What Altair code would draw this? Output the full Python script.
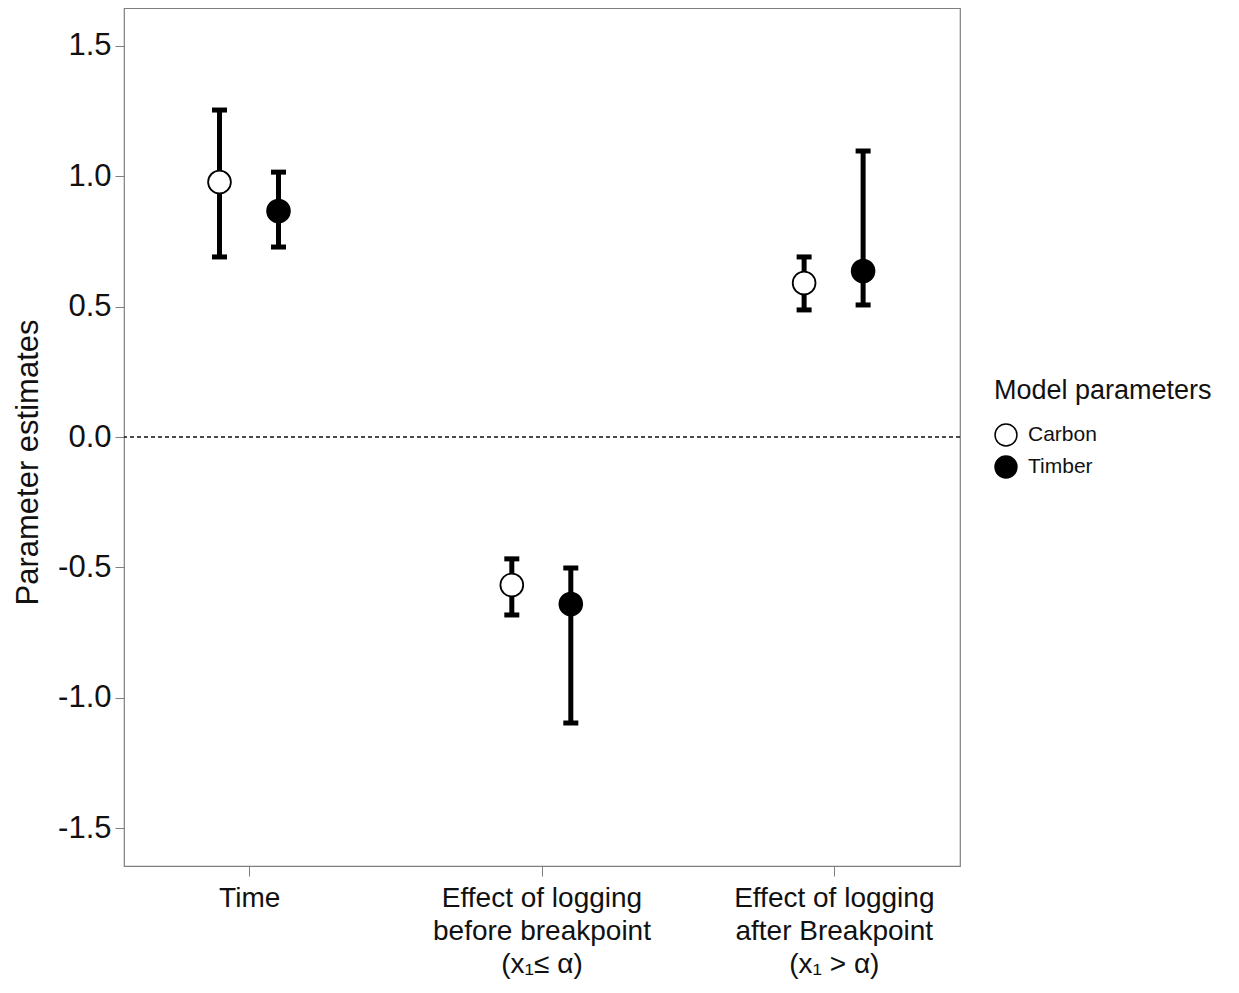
import altair as alt
import pandas as pd

params = ["Time", "Before", "After"]
param_labels = [
    ["Time"],
    ["Effect of logging", "before breakpoint", "(x\u2081\u2264 \u03b1)"],
    ["Effect of logging", "after Breakpoint", "(x\u2081 > \u03b1)"],
]
models = ["Carbon", "Timber"]

carbon_est = [0.977, -0.567, 0.590]
carbon_lo = [0.690, -0.682, 0.487]
carbon_hi = [1.253, -0.467, 0.690]
timber_est = [0.866, -0.640, 0.636]
timber_lo = [0.728, -1.096, 0.506]
timber_hi = [1.015, -0.502, 1.096]

rows = []
for i, p in enumerate(params):
    rows.append(dict(param=p, model="Carbon", est=carbon_est[i], lo=carbon_lo[i], hi=carbon_hi[i]))
    rows.append(dict(param=p, model="Timber", est=timber_est[i], lo=timber_lo[i], hi=timber_hi[i]))
df = pd.DataFrame(rows)

# label expression built from the label arrays
def js_arr(a):
    return "[" + ",".join("'" + s + "'" for s in a) + "]"

label_expr = " : ".join(
    f"datum.value == '{p}' ? {js_arr(l)}" for p, l in zip(params, param_labels)
) + " : ''"

FONT = "Liberation Sans"

x_enc = alt.X(
    "param:N",
    sort=params,
    scale=alt.Scale(paddingInner=0.14, paddingOuter=0),
    axis=alt.Axis(
        title=None,
        labelExpr=label_expr,
        labelAngle=0,
        labelFontSize=28,
        labelFont=FONT,
        labelColor="#111111",
        labelLineHeight=33,
        labelPadding=8,
        labelLimit=0,
        tickColor="#7f7f7f",
        tickSize=10,
        domain=False,
        labelBaseline="top",
    ),
)
xoff = alt.XOffset(
    "model:N",
    sort=models,
    scale=alt.Scale(range=[66, 184], paddingInner=0, paddingOuter=0),
)
y_scale = alt.Scale(domain=[-1.644, 1.644], nice=False, zero=False)
y_axis = alt.Axis(
    title="Parameter estimates",
    values=[-1.5, -1.0, -0.5, 0.0, 0.5, 1.0, 1.5],
    format=".1f",
    labelExpr="replace(datum.label, '\u2212', '-')",
    labelFontSize=31,
    labelFont=FONT,
    labelColor="#111111",
    titleFontSize=31,
    titleFont=FONT,
    titleFontWeight="normal",
    titleColor="#111111",
    titlePadding=13,
    titleY=454,
    tickColor="#7f7f7f",
    tickSize=9,
    labelPadding=4,
    domain=False,
    grid=False,
)

base = alt.Chart(df)

zero = alt.Chart(pd.DataFrame({"z": [0.0]})).mark_rule(
    strokeDash=[4, 3], color="#111111", strokeWidth=1.4
).encode(y=alt.Y("z:Q", scale=y_scale, axis=y_axis))

bars = base.mark_rule(color="black", strokeWidth=5).encode(
    x=x_enc, xOffset=xoff,
    y=alt.Y("lo:Q", scale=y_scale, axis=y_axis), y2="hi:Q",
)
caps_lo = base.mark_tick(color="black", opacity=1, size=15, thickness=5, orient="horizontal").encode(
    x=x_enc, xOffset=xoff, y=alt.Y("lo:Q", scale=y_scale, axis=y_axis),
)
caps_hi = base.mark_tick(color="black", opacity=1, size=15, thickness=5, orient="horizontal").encode(
    x=x_enc, xOffset=xoff, y=alt.Y("hi:Q", scale=y_scale, axis=y_axis),
)
points = base.mark_point(filled=True, opacity=1, stroke="black", strokeWidth=1.8, size=520, shape="circle").encode(
    x=x_enc, xOffset=xoff,
    y=alt.Y("est:Q", scale=y_scale, axis=y_axis),
    fill=alt.Fill(
        "model:N",
        sort=models,
        scale=alt.Scale(domain=models, range=["white", "black"]),
        legend=alt.Legend(
            title="Model parameters",
            orient="none",
            legendX=870,
            legendY=370,
            titleFontSize=27,
            titleFont=FONT,
            titleFontWeight="normal",
            titleColor="#111111",
            titlePadding=18,
            titleLimit=0,
            labelFontSize=21,
            labelFont=FONT,
            labelColor="#111111",
            labelLimit=0,
            symbolType="circle",
            symbolSize=480,
            symbolStrokeColor="black",
            symbolStrokeWidth=1.5,
            symbolOpacity=1,
            rowPadding=4,
            labelOffset=10,
        ),
    ),
)

chart = (
    alt.layer(zero, bars, caps_lo, caps_hi, points)
    .properties(
        width=836,
        height=858,
        autosize=alt.AutoSizeParams(type="none"),
        padding={"left": 116, "top": 0, "right": 260, "bottom": 119},
        background="white",
    )
    .configure_view(stroke="#7f7f7f", strokeWidth=1.2)
)

chart.save("out.html", embed_options={"renderer": "svg", "actions": False})
